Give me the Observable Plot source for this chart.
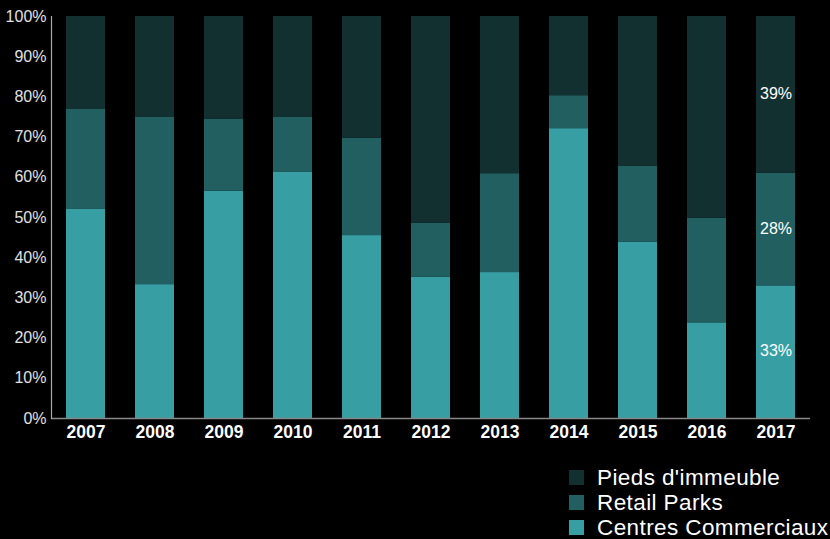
<!DOCTYPE html>
<html>
<head>
<meta charset="utf-8">
<script src="https://cdn.jsdelivr.net/npm/d3@7"></script>
<script src="https://cdn.jsdelivr.net/npm/@observablehq/plot@0.6"></script>
<style>
  html, body { margin: 0; padding: 0; background: #000; overflow: hidden; }
  body { width: 830px; height: 539px; font-family: "Liberation Sans", Arial, sans-serif; }
  #legend { margin-top: 10px; padding-left: 569px; color: #fff; font-size: 22.5px; letter-spacing: 0.4px; white-space: nowrap; }
  .row { height: 25px; line-height: 25px; display: flex; align-items: center; }
  .sw { width: 15px; height: 15px; margin-right: 13px; flex: none; }
</style>
</head>
<body>
<div id="chart"></div>
<div id="legend"></div>
<script>
const years = ["2007","2008","2009","2010","2011","2012","2013","2014","2015","2016","2017"];
const centres = [52, 33.3, 56.5, 61.2, 45.5, 35.1, 36.3, 72.1, 43.9, 23.8, 33];
const retail = [25, 41.7, 17.9, 13.8, 24.2, 13.5, 24.6, 8.2, 18.8, 26, 28];
const pieds = [23, 25, 25.6, 25, 30.3, 51.4, 39.1, 19.7, 37.3, 50.2, 39];
const categories = ["Centres Commerciaux", "Retail Parks", "Pieds d'immeuble"];
const colors = ["#379ea3", "#225f61", "#133031"];
const labelYear = "2017";

const series = [centres, retail, pieds];
const data = [];
years.forEach((y, i) => {
  categories.forEach((c, k) => data.push({year: y, cat: c, value: series[k][i]}));
});

const chart = Plot.plot({
  width: 830,
  height: 455,
  marginLeft: 51,
  marginRight: 20,
  marginTop: 16,
  marginBottom: 37,
  style: {background: "#000", fontFamily: "'Liberation Sans', Arial, sans-serif"},
  x: {domain: years, paddingInner: 0.435, paddingOuter: 0.217, label: null},
  y: {domain: [0, 100], label: null},
  color: {domain: categories, range: colors},
  marks: [
    Plot.barY(data, Plot.stackY({order: categories}, {x: "year", y: "value", z: "cat", fill: "cat"})),
    Plot.text(data.filter(d => d.year === labelYear), Plot.stackY({order: categories}, {
      x: "year", y: "value", z: "cat", text: d => Math.round(d.value) + "%", fill: "#fff", fontSize: 16, dy: -1
    })),
    Plot.axisY({ticks: d3.range(0, 101, 10), tickFormat: d => d + "%", tickSize: 0, tickPadding: 5, fill: "#e0e0e0", fontSize: 16, label: null}),
    Plot.axisX({tickSize: 0, tickPadding: 7, fill: "#fff", fontSize: 17.5, fontWeight: "bold", label: null}),
    Plot.ruleY([0], {stroke: "#888", strokeWidth: 1.5}),
    Plot.frame({anchor: "left", stroke: "#aaa", strokeWidth: 1.2})
  ]
});
document.getElementById("chart").appendChild(chart);

const legend = document.getElementById("legend");
[2, 1, 0].forEach(k => {
  const row = document.createElement("div");
  row.className = "row";
  const sw = document.createElement("span");
  sw.className = "sw";
  sw.style.background = colors[k];
  const t = document.createElement("span");
  t.textContent = categories[k];
  row.appendChild(sw);
  row.appendChild(t);
  legend.appendChild(row);
});
</script>
</body>
</html>
